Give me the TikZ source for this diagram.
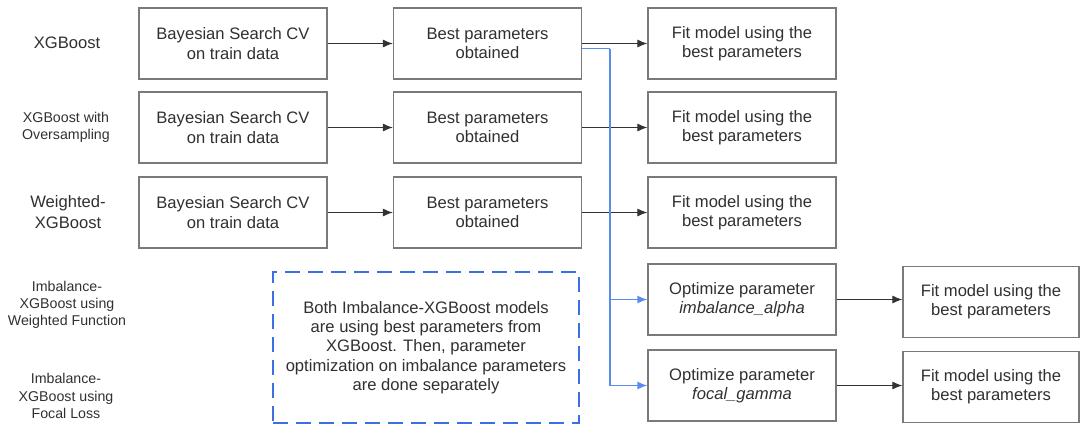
\documentclass[tikz,border=0pt]{standalone}
\usepackage{fontspec}
\setmainfont{Liberation Sans}
\usetikzlibrary{arrows.meta}
\definecolor{txtgray}{HTML}{303030}
\definecolor{boxgray}{HTML}{7A7A7A}
\definecolor{linkblue}{HTML}{5A8CF0}
\definecolor{noteblue}{HTML}{3C6FE2}

\begin{document}
\begin{tikzpicture}[>={Latex[length=5pt,width=4pt]},x=0.5pt,y=-0.5pt,
  every node/.style={font=\fontsize{8.3}{9.6}\selectfont,text=txtgray,align=center},
  box/.style={draw=boxgray,line width=0.6pt,minimum width=94pt,minimum height=35.5pt,inner sep=0pt},
  lbl/.style={font=\fontsize{8.3}{10.5}\selectfont},
  sublbl/.style={font=\fontsize{7.1}{8.6}\selectfont},
  link/.style={->,line width=0.55pt,black!80},
  bluelink/.style={line width=0.7pt,linkblue}]
\useasboundingbox (0,0) rectangle (1081,424);

% model names
\node[lbl] (m1) at (67,43) {XGBoost};
\node[sublbl] (m2) at (66,127) {XGBoost with\\Oversampling};
\node[lbl] (m3) at (68,212) {Weighted-\\XGBoost};
\node[sublbl] (m4) at (67,305) {Imbalance-\\XGBoost using\\Weighted Function};
\node[sublbl] (m5) at (66,396) {Imbalance-\\XGBoost using\\Focal Loss};

% rows 1-3
\foreach \r/\y in {1/43.5,2/127.5,3/212.5}{
  \node[box] (r\r c1) at (233,\y) {Bayesian Search CV\\on train data};
  \node[box] (r\r c2) at (487.5,\y) {Best parameters\\obtained};
  \node[box] (r\r c3) at (742,\y) {Fit model using the\\best parameters};
  \draw[link] (r\r c1) -- (r\r c2);
  \draw[link] (r\r c2) -- (r\r c3);
}

% rows 4-5
\node[box] (r4c3) at (742,299.5) {Optimize parameter\\\textit{imbalance\_alpha}};
\node[box] (r5c3) at (742,385.5) {Optimize parameter\\\textit{focal\_gamma}};
\node[box,minimum width=88pt] (r4c4) at (991,302) {Fit model using the\\best parameters};
\node[box,minimum width=88pt] (r5c4) at (991,387) {Fit model using the\\best parameters};
\draw[link] (r4c3.east) -- (r4c3.east -| r4c4.west);
\draw[link] (r5c3.east) -- (r5c3.east -| r5c4.west);

% best XGBoost parameters reused
\coordinate (split) at (610,48.5);
\draw[bluelink] ([yshift=-2.5pt]r1c2.east) -- (split);
\draw[bluelink,->] (split) |- (r4c3.west);
\draw[bluelink,->] (split) |- (r5c3.west);

% note
\node[draw=noteblue,line width=1pt,dash pattern=on 7.5pt off 4pt,
  minimum width=153pt,minimum height=75.5pt,inner sep=0pt] (note) at (426,347.5)
  {Both Imbalance-XGBoost models\\are using best parameters from\\XGBoost. Then, parameter\\optimization on imbalance parameters\\are done separately};
\end{tikzpicture}
\end{document}
